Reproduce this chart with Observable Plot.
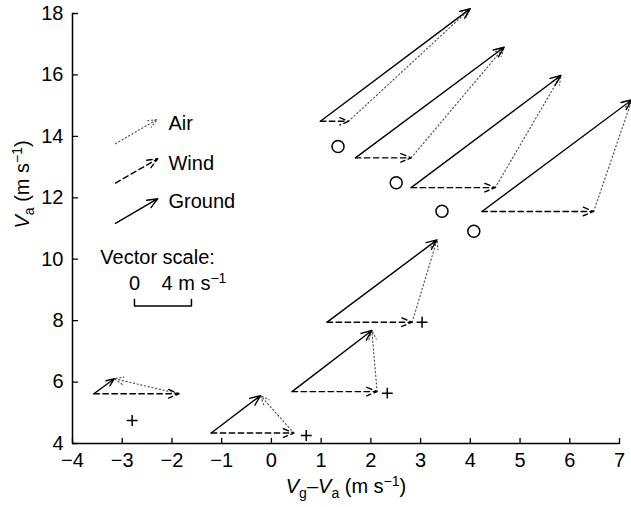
<!DOCTYPE html>
<html>
<head>
<meta charset="utf-8">
<script src="https://cdn.jsdelivr.net/npm/d3@7"></script>
<script src="https://cdn.jsdelivr.net/npm/@observablehq/plot@0.6"></script>
<style>
  html, body { margin: 0; padding: 0; background: #fff; }
</style>
</head>
<body>
<div id="chart"></div>
<script>
// ---- data ----
// vector triangles: origin, end of wind vector (horizontal), tip of ground vector
const originX    = [0.985, 1.69, 2.81, 4.235, 1.12, 0.415, -1.21, -3.57];
const originY    = [14.49, 13.30, 12.33, 11.555, 7.95, 5.69, 4.34, 5.62];
const windEndX   = [1.55, 2.81, 4.50, 6.48, 2.83, 2.125, 0.45, -1.86];
const groundTipX = [4.0, 4.68, 5.82, 7.25, 3.33, 2.02, -0.22, -3.16];
const groundTipY = [18.16, 16.90, 15.98, 15.19, 10.63, 7.68, 5.56, 6.11];
// open circles
const circleX = [1.34, 2.51, 3.43, 4.07];
const circleY = [13.67, 12.49, 11.56, 10.91];
// plus markers
const plusX = [-2.80, 0.70, 2.33, 3.03];
const plusY = [4.75, 4.26, 5.64, 7.95];
// ticks
const xTicks = [-4, -3, -2, -1, 0, 1, 2, 3, 4, 5, 6, 7];
const yTicks = [4, 6, 8, 10, 12, 14, 16, 18];
// legend
const legendLabels = ["Air", "Wind", "Ground"];
const legendX1 = [-3.136, -3.136, -3.136];
const legendY1 = [13.76, 12.48, 11.17];
const legendX2 = [-2.297, -2.285, -2.285];
const legendY2 = [14.55, 13.27, 11.97];
const legendTextX = -2.07;
const legendTextY = [14.42, 13.12, 11.86];
// vector scale (4 m s-1)
const scaleBarX = [-2.754, -2.754, -1.608, -1.608];
const scaleBarY = [8.69, 8.48, 8.48, 8.69];

const idx = d3.range(originX.length);
const FS = 20;

const airStyle = {stroke: "#555", strokeWidth: 1.2, strokeDasharray: "1.2 2.6", headLength: 12, headAngle: 45};
const windStyle = {stroke: "black", strokeWidth: 1.4, strokeDasharray: "5.5 3.5", headLength: 12, headAngle: 45};
const groundStyle = {stroke: "black", strokeWidth: 1.4, headLength: 12, headAngle: 45};

const tickShape = {draw(context, l) { context.moveTo(0, 0); context.lineTo(0, -l); }};

const chart = Plot.plot({
  width: 631,
  height: 507,
  marginLeft: 72,
  marginRight: 12,
  marginTop: 13,
  marginBottom: 64,
  style: {fontFamily: "'Liberation Sans', Arial, Helvetica, sans-serif", fontSize: FS + "px", color: "black", background: "white", overflow: "visible"},
  x: {domain: [-4, 7], axis: null},
  y: {domain: [4, 18], axis: null},
  marks: [
    // axes
    Plot.ruleY([4], {strokeWidth: 1.5}),
    Plot.ruleX([-4], {strokeWidth: 1.5}),
    Plot.vector(xTicks, {x: d => d, y: 4, length: 5, rotate: 0, anchor: "start", shape: tickShape, strokeWidth: 1.3}),
    Plot.vector(yTicks, {x: -4, y: d => d, length: 5, rotate: 90, anchor: "start", shape: tickShape, strokeWidth: 1.3}),
    Plot.axisX({ticks: xTicks, tickSize: 0, tickPadding: 9, label: null, tickFormat: d => d < 0 ? "\u2212" + Math.abs(d) : String(d)}),
    Plot.axisY({ticks: yTicks, tickSize: 0, tickPadding: 9, label: null}),
    Plot.text(["XLABEL"], {frameAnchor: "bottom", dy: 49, text: d => d}),
    Plot.text(["YLABEL"], {frameAnchor: "left", dx: -50, rotate: -90, text: d => d}),
    // vectors
    Plot.arrow(idx, {x1: i => windEndX[i], y1: i => originY[i], x2: i => groundTipX[i], y2: i => groundTipY[i], ...airStyle}),
    Plot.arrow(idx, {x1: i => originX[i], y1: i => originY[i], x2: i => windEndX[i], y2: i => originY[i], ...windStyle}),
    Plot.arrow(idx, {x1: i => originX[i], y1: i => originY[i], x2: i => groundTipX[i], y2: i => groundTipY[i], ...groundStyle}),
    // markers
    Plot.dot(circleX, {x: d => d, y: (d, i) => circleY[i], r: 6, stroke: "black", strokeWidth: 1.5, fill: "none"}),
    Plot.dot(plusX, {x: d => d, y: (d, i) => plusY[i], r: 3.6, symbol: "plus", stroke: "black", strokeWidth: 1.5}),
    // legend
    Plot.arrow([0], {x1: legendX1[0], y1: legendY1[0], x2: legendX2[0], y2: legendY2[0], ...airStyle}),
    Plot.arrow([1], {x1: legendX1[1], y1: legendY1[1], x2: legendX2[1], y2: legendY2[1], ...windStyle}),
    Plot.arrow([2], {x1: legendX1[2], y1: legendY1[2], x2: legendX2[2], y2: legendY2[2], ...groundStyle}),
    Plot.text(legendLabels, {x: legendTextX, y: (d, i) => legendTextY[i], text: d => d, textAnchor: "start"}),
    // vector scale
    Plot.text(["Vector scale:"], {x: -3.44, y: 10.06, text: d => d, textAnchor: "start"}),
    Plot.text(["0"], {x: scaleBarX[0], y: 9.21, text: d => d}),
    Plot.text(["SCALEUNIT"], {x: -2.21, y: 9.21, text: d => d, textAnchor: "start"}),
    Plot.line(scaleBarX.map((x, i) => [x, scaleBarY[i]]), {x: d => d[0], y: d => d[1], stroke: "black", strokeWidth: 1.5})
  ]
});

// rich text (italics, sub- and superscripts)
const sub = (s) => `<tspan dy="5" font-size="14">${s}</tspan>`;
const sup = (s) => `<tspan dy="-7" font-size="14">${s}</tspan>`;
const rich = {
  "XLABEL": `<tspan font-style="italic">V</tspan>${sub("g")}<tspan dy="-5">\u2013</tspan><tspan font-style="italic">V</tspan>${sub("a")}<tspan dy="-5"> (m s</tspan>${sup("\u22121")}<tspan dy="7">)</tspan>`,
  "YLABEL": `<tspan font-style="italic">V</tspan>${sub("a")}<tspan dy="-5"> (m s</tspan>${sup("\u22121")}<tspan dy="7">)</tspan>`,
  "SCALEUNIT": `4 m s${sup("\u22121")}`
};
chart.querySelectorAll("text").forEach(t => {
  const k = t.textContent.trim();
  if (rich[k]) t.innerHTML = rich[k];
});
document.getElementById("chart").appendChild(chart);
</script>
</body>
</html>
